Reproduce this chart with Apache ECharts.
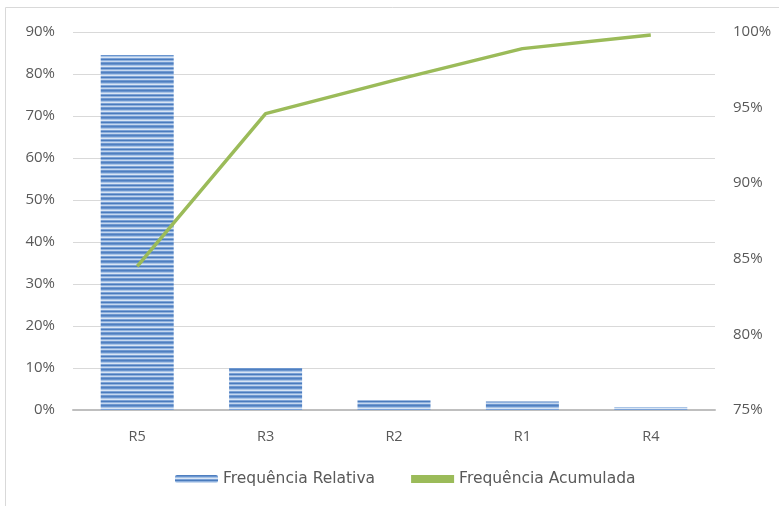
<!DOCTYPE html>
<html><head><meta charset="utf-8">
<script src="https://cdn.jsdelivr.net/npm/echarts@6/dist/echarts.min.js"></script>
<style>html,body{margin:0;padding:0;background:#fff}#c{width:779px;height:506px}</style>
</head><body><div id="c"></div>
<script>
var categories = ['R5', 'R3', 'R2', 'R1', 'R4'];
var relativa = [84.5, 10.0, 2.3, 2.0, 0.7];
var acumulada = [84.5, 94.6, 96.8, 98.9, 99.8];
var leftTicks = [0, 10, 20, 30, 40, 50, 60, 70, 80, 90];
var rightTicks = [75, 80, 85, 90, 95, 100];

function stripePattern() {
  var cv = document.createElement('canvas');
  cv.width = 8; cv.height = 9;
  var ctx = cv.getContext('2d');
  var rows = ['#4f7fc0', '#6a95cf', '#a9c4e6', '#d9e5f4', '#7ca2d6', '#4a7bbd', '#8fb1de', '#c6d8ef', '#6f98d0'];
  for (var i = 0; i < rows.length; i++) { ctx.fillStyle = rows[i]; ctx.fillRect(0, i, 8, 1); }
  return cv;
}
var pat = { image: stripePattern(), repeat: 'repeat' };
var font = 'Open Sans';
var chart = echarts.init(document.getElementById('c'), null, { renderer: 'canvas' });
chart.setOption({
  animation: false,
  textStyle: { fontFamily: font },
  graphic: [{ type: 'rect', shape: { x: 5.5, y: 7.5, width: 790, height: 520 }, style: { fill: 'none', stroke: '#d9d9d9', lineWidth: 1 }, silent: true }],
  grid: { left: 73, right: 64, top: 32, bottom: 96 },
  legend: {
    bottom: 14, left: 170, itemGap: 36, itemWidth: 43, itemHeight: 8,
    textStyle: { color: '#595959', fontSize: 15.5, fontFamily: 'DejaVu Sans' },
    data: [{ name: 'Frequência Relativa', itemStyle: { color: pat } },
           { name: 'Frequência Acumulada', icon: 'rect', itemStyle: { color: '#9bbb59' } }]
  },
  xAxis: {
    type: 'category', data: categories,
    axisLine: { lineStyle: { color: '#bfbfbf', width: 2 } },
    axisTick: { show: false },
    axisLabel: { color: '#595959', fontSize: 14.5, margin: 19 }
  },
  yAxis: [{
    type: 'value', min: 0, max: 90, interval: 10,
    axisLabel: { color: '#595959', fontSize: 15, margin: 18, formatter: function (v) { return leftTicks.indexOf(v) >= 0 ? v + '%' : ''; } },
    splitLine: { lineStyle: { color: '#d9d9d9', width: 1 } },
    axisLine: { show: false }, axisTick: { show: false }
  }, {
    type: 'value', min: 75, max: 100, interval: 5,
    axisLabel: { color: '#595959', fontSize: 15, margin: 18, formatter: function (v) { return rightTicks.indexOf(v) >= 0 ? v + '%' : ''; } },
    splitLine: { show: false }, axisLine: { show: false }, axisTick: { show: false }
  }],
  series: [{
    name: 'Frequência Relativa', type: 'bar', data: relativa, barWidth: 73, yAxisIndex: 0,
    itemStyle: { color: pat }
  }, {
    name: 'Frequência Acumulada', type: 'line', data: acumulada, yAxisIndex: 1,
    symbol: 'none', lineStyle: { color: '#9bbb59', width: 3.5 }, itemStyle: { color: '#9bbb59' }
  }]
});
</script></body></html>
